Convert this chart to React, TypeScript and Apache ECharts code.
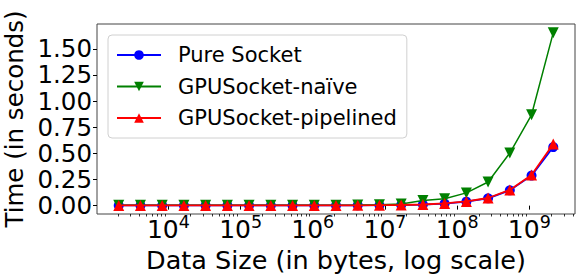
import React, { useEffect, useRef } from "react";
import * as echarts from "echarts";

const dataSizes = [
  2048, 4096, 8192, 16384, 32768, 65536, 131072, 262144, 524288, 1048576,
  2097152, 4194304, 8388608, 16777216, 33554432, 67108864, 134217728,
  268435456, 536870912, 1073741824, 2147483648,
];
const pureSocket = [
  0.002, 0.002, 0.002, 0.002, 0.002, 0.002, 0.002, 0.002, 0.002, 0.002,
  0.002, 0.003, 0.004, 0.006, 0.01, 0.02, 0.038, 0.07, 0.146, 0.287, 0.56,
];
const gpuNaive = [
  0.003, 0.003, 0.003, 0.003, 0.003, 0.003, 0.003, 0.003, 0.003, 0.003,
  0.004, 0.005, 0.008, 0.015, 0.048, 0.066, 0.122, 0.226, 0.503, 0.869, 1.654,
];
const gpuPipelined = [
  0.002, 0.002, 0.002, 0.002, 0.002, 0.002, 0.002, 0.002, 0.002, 0.002,
  0.002, 0.003, 0.004, 0.006, 0.011, 0.021, 0.04, 0.073, 0.15, 0.292, 0.59,
];
const majorTicks = [1e4, 1e5, 1e6, 1e7, 1e8, 1e9];
const minorTicks: number[] = [];
for (let e = 3; e <= 9; e++) {
  for (let m = 2; m <= 9; m++) {
    const v = m * Math.pow(10, e);
    if (v > 1024 && v < 4294967296) minorTicks.push(v);
  }
}
const yTicks = [0, 0.25, 0.5, 0.75, 1.0, 1.25, 1.5];

const FONT = "DejaVu Sans";

export default function App() {
  const ref = useRef<HTMLDivElement>(null);
  useEffect(() => {
    if (!ref.current) return;
    const chart = echarts.init(ref.current, undefined, { renderer: "svg" });
    const mk = (vals: number[]) => dataSizes.map((x, i) => [x, vals[i]]);
    chart.setOption({
      animation: false,
      textStyle: { fontFamily: FONT },
      grid: {
        left: 97,
        right: 7,
        top: 24,
        bottom: 66,
        outerBoundsMode: "none",
        containLabel: false,
        show: true,
        borderColor: "#444",
        borderWidth: 1,
        backgroundColor: "transparent",
      },
      legend: {
        left: 108,
        top: 35,
        orient: "vertical",
        itemWidth: 44,
        itemHeight: 12,
        itemGap: 9.5,
        padding: [9, 10, 9, 8],
        borderColor: "#d0d0d0",
        borderWidth: 1,
        borderRadius: 4,
        backgroundColor: "rgba(255,255,255,0.8)",
        textStyle: {
          fontFamily: FONT,
          fontSize: 21,
          color: "#000",
          padding: [0, 0, 0, 12],
          lineHeight: 22,
        },
        data: ["Pure Socket", "GPUSocket-naïve", "GPUSocket-pipelined"],
      },
      xAxis: [
        {
          type: "log",
          min: 1024,
          max: 4294967296,
          position: "bottom",
          axisLine: { show: false },
          splitLine: { show: false },
          axisTick: {
            show: true,
            customValues: majorTicks,
            length: 4,
            lineStyle: { color: "#000" },
          },
          axisLabel: {
            customValues: majorTicks,
            margin: 2.5,
            color: "#000",
            fontSize: 25,
            fontFamily: FONT,
            hideOverlap: false,
            formatter: (v: number) =>
              "{base|10}{expo|" + Math.round(Math.log10(v)) + "}",
            rich: {
              base: {
                fontSize: 25,
                fontFamily: FONT,
                color: "#000",
                lineHeight: 25,
                verticalAlign: "bottom",
              },
              expo: {
                fontSize: 17.5,
                fontFamily: FONT,
                color: "#000",
                lineHeight: 17.5,
                verticalAlign: "bottom",
                padding: [0, 0, 10.5, 0],
              },
            },
          },
          name: "Data Size (in bytes, log scale)",
          nameLocation: "middle",
          nameGap: 33,
          nameTextStyle: { fontSize: 25.5, fontFamily: FONT, color: "#000" },
        },
        {
          type: "log",
          min: 1024,
          max: 4294967296,
          position: "bottom",
          axisLine: { show: false },
          splitLine: { show: false },
          axisLabel: { show: false },
          axisTick: {
            show: true,
            customValues: minorTicks,
            length: 2.5,
            lineStyle: { color: "#000", width: 0.8 },
          },
        },
      ],
      yAxis: {
        type: "value",
        min: -0.08,
        max: 1.737,
        axisLine: { show: false },
        splitLine: { show: false },
        axisTick: {
          show: true,
          customValues: yTicks,
          length: 4,
          lineStyle: { color: "#000" },
        },
        axisLabel: {
          customValues: yTicks,
          margin: 5,
          fontSize: 24.5,
          lineHeight: 20,
          fontFamily: FONT,
          color: "#000",
          formatter: (v: number) => v.toFixed(2),
        },
        name: "Time (in seconds)",
        nameLocation: "middle",
        nameGap: 68,
        nameTextStyle: {
          fontSize: 24.5,
          lineHeight: 24,
          fontFamily: FONT,
          color: "#000",
        },
      },
      series: [
        {
          name: "Pure Socket",
          type: "line",
          data: mk(pureSocket),
          symbol: "circle",
          symbolSize: 10,
          showAllSymbol: true,
          lineStyle: { color: "#0000ff", width: 1.8 },
          itemStyle: { color: "#0000ff" },
          z: 2,
        },
        {
          name: "GPUSocket-naïve",
          type: "line",
          data: mk(gpuNaive),
          symbol: "triangle",
          symbolRotate: 180,
          symbolSize: 11,
          showAllSymbol: true,
          lineStyle: { color: "#008000", width: 1.5 },
          itemStyle: { color: "#008000" },
          z: 3,
        },
        {
          name: "GPUSocket-pipelined",
          type: "line",
          data: mk(gpuPipelined),
          symbol: "triangle",
          symbolSize: 11,
          showAllSymbol: true,
          lineStyle: { color: "#ff0000", width: 1.8 },
          itemStyle: { color: "#ff0000" },
          z: 4,
        },
      ],
    });
    return () => chart.dispose();
  }, []);
  return (
    <div
      ref={ref}
      style={{ position: "absolute", left: 0, top: 0, width: 582, height: 280 }}
    />
  );
}
